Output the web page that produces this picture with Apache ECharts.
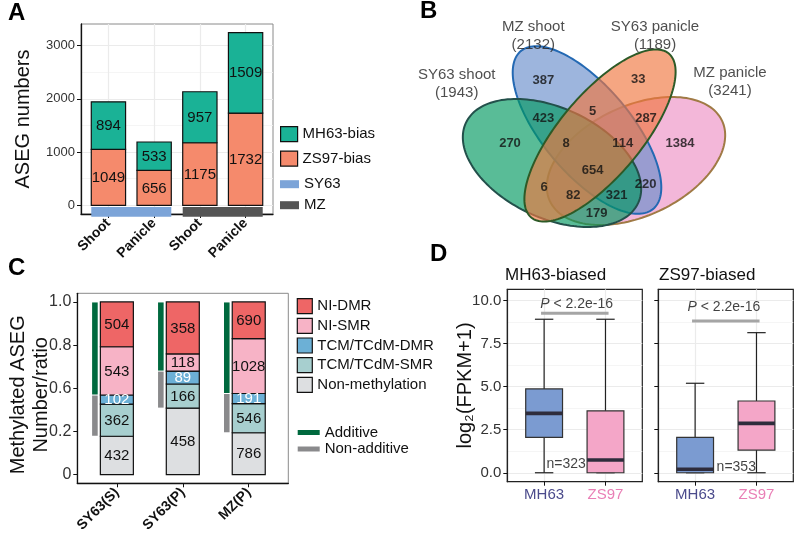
<!DOCTYPE html>
<html>
<head>
<meta charset="utf-8">
<script src="https://cdn.jsdelivr.net/npm/echarts@6/dist/echarts.min.js"></script>
<style>
html,body{margin:0;padding:0;background:#ffffff;}
#chart{width:797px;height:535px;}
</style>
</head>
<body>
<div id="chart"></div>
<script>
// ================= DATA =================
// Panel A
const aCategories = ['Shoot', 'Panicle', 'Shoot', 'Panicle'];
const aZS97Bias = [1049, 656, 1175, 1732];
const aMH63Bias = [894, 533, 957, 1509];
const aHybrids = ['SY63', 'MZ'];
const aHybridSpan = [[1, 2], [3, 4]];
const aYTicks = [0, 1000, 2000, 3000];
const aYMinor = [500, 1500, 2500];

// Panel B (Venn)
const vennSetNames = ['SY63 shoot', 'MZ shoot', 'SY63 panicle', 'MZ panicle'];
const vennSetTotals = [1943, 2132, 1189, 3241];
const vennRegionCounts = [387, 33, 423, 5, 287, 270, 8, 114, 1384, 654, 6, 220, 82, 321, 179];

// Panel C
const cCategories = ['SY63(S)', 'SY63(P)', 'MZ(P)'];
const cNonMethylation = [432, 458, 786];
const cTcmSmr = [362, 166, 546];
const cTcmDmr = [102, 89, 191];
const cNiSmr = [543, 118, 1028];
const cNiDmr = [504, 358, 690];
const cYTickValues = [0, 0.25, 0.5, 0.75, 1];
const cYTickLabels = ['0', '0.2', '0.6', '0.8', '1.0'];

// Panel D  [min, Q1, median, Q3, max]
const dGroups = ['MH63', 'ZS97'];
const dFacets = ['MH63-biased', 'ZS97-biased'];
const dMH63Biased = [[0, 2.06, 3.45, 4.87, 8.92], [0, 0, 0.74, 3.6, 8.92]];
const dZS97Biased = [[0, 0, 0.2, 2.06, 5.2], [0, 1.32, 2.87, 4.17, 8.14]];
const dCounts = ['n=323', 'n=353'];
const dPText = 'P < 2.2e-16';
const dYTicks = [0, 2.5, 5, 7.5, 10];
const dYMinor = [1.25, 3.75, 6.25, 8.75];

// ================= LAYOUT (positions / geometry, not data) =================
// Venn geometry in diagram units (px offsets of panel B): [cx, cy, rx, ry, rotationDeg]
const vennShapes = [
  [152, 163, 95, 55, 25],     // SY63 shoot
  [187, 130, 103, 44, 50],    // MZ shoot
  [200, 135.5, 107, 41, -50], // SY63 panicle
  [236, 161, 95, 55, -25]     // MZ panicle
];
const vennRegionAnchor = [
  [143.3, 80], [238.3, 79], [143.3, 118.3], [192.7, 111.7], [246, 118.3],
  [110, 143.3], [166, 143.3], [222.7, 143.3], [280, 143.3], [192.7, 170],
  [144, 187.7], [245.7, 184.3], [173.3, 195.7], [216.7, 195.7], [196.7, 213.3]
];
const vennSetAnchor = [[56.7, 84], [133.3, 36], [255, 36], [330, 81.5]];
const dPLineY = [9.27, 8.82];
const dPTextPos = [[1.53, 9.78], [1.47, 9.6]];
const dCountPos = [[1.04, 0.5], [1.35, 0.35]];

// ================= STYLE =================
const FONT = '"Liberation Sans", Arial, Helvetica, sans-serif';
const colMH63 = '#1AB296', colZS97 = '#F58A6C';
const hybridColors = ['#7CA4D8', '#555555'];
const cColors = { 'Non-methylation': '#DDDFE1', 'TCM/TCdM-SMR': '#A7CFCF', 'TCM/TCdM-DMR': '#6CB0D6', 'NI-SMR': '#F7B3C6', 'NI-DMR': '#EE6666' };
const vennFill = ['rgba(0,152,96,0.65)', 'rgba(104,141,203,0.65)', 'rgba(240,118,63,0.65)', 'rgba(236,144,197,0.65)'];
const vennStroke = ['#23504B', '#2469B3', '#2D5A27', '#A07A45'];
const vennZ = [2, 1, 3, 0];
const boxColors = ['#7B9BD1', '#F4A6C8'];
const A_BAR_PX = 34.3, C_BAR_PX = 33;

const chart = echarts.init(document.getElementById('chart'), null, { renderer: 'canvas' });

function axisLineStyle(c, w) { return { show: true, onZero: false, lineStyle: { color: c, width: w } }; }

// stacked-bar custom series: data item = [x, bottom, top, labelValue]
function stackedSeries(name, xi, yi, data, color, txtColor, barPx) {
  return {
    type: 'custom', name, xAxisIndex: xi, yAxisIndex: yi, z: 3,
    itemStyle: { color },
    data,
    renderItem: (params, api) => {
      const x = api.value(0);
      const p0 = api.coord([x, api.value(1)]);
      const p1 = api.coord([x, api.value(2)]);
      return { type: 'group', children: [
        { type: 'rect', shape: { x: p0[0] - barPx / 2, y: p1[1], width: barPx, height: p0[1] - p1[1] },
          style: { fill: color, stroke: '#111', lineWidth: 1.2 } },
        { type: 'text', z2: 20, x: p0[0], y: (p0[1] + p1[1]) / 2 + 0.5,
          style: { text: String(api.value(3)), fill: txtColor, fontSize: 15, fontFamily: FONT, align: 'center', verticalAlign: 'middle' } }
      ] };
    }
  };
}

const series = [];

// ---- Panel A stacked bars
const aLayers = [['ZS97-bias', aZS97Bias, colZS97], ['MH63-bias', aMH63Bias, colMH63]];
const aBase = aCategories.map(() => 0);
aLayers.forEach(([name, vals, col]) => {
  const data = vals.map((v, i) => { const d = [i + 1, aBase[i], aBase[i] + v, v]; aBase[i] += v; return d; });
  series.push(stackedSeries(name, 0, 0, data, col, '#111', A_BAR_PX));
});
aHybrids.forEach((name, k) => {
  series.push({
    type: 'custom', name, xAxisIndex: 0, yAxisIndex: 0, z: 4, clip: false,
    itemStyle: { color: hybridColors[k] },
    data: [aHybridSpan[k]],
    renderItem: (params, api) => {
      const p0 = api.coord([api.value(0), 0]);
      const p1 = api.coord([api.value(1), 0]);
      return { type: 'rect', shape: { x: p0[0] - A_BAR_PX / 2, y: p0[1] + 1.6, width: p1[0] - p0[0] + A_BAR_PX, height: 9.7 }, style: { fill: hybridColors[k] } };
    }
  });
});

// ---- Panel C stacked proportions
const cTotals = cCategories.map((_, i) => cNonMethylation[i] + cTcmSmr[i] + cTcmDmr[i] + cNiSmr[i] + cNiDmr[i]);
const cSegments = [
  ['Non-methylation', cNonMethylation, '#111'],
  ['TCM/TCdM-SMR', cTcmSmr, '#111'],
  ['TCM/TCdM-DMR', cTcmDmr, '#ffffff'],
  ['NI-SMR', cNiSmr, '#111'],
  ['NI-DMR', cNiDmr, '#111']
];
const cBase = cCategories.map(() => 0);
cSegments.forEach(([name, vals, txtCol]) => {
  const data = vals.map((v, i) => { const f = v / cTotals[i]; const d = [i + 1, cBase[i], cBase[i] + f, v]; cBase[i] += f; return d; });
  series.push(stackedSeries(name, 1, 2, data, cColors[name], txtCol, C_BAR_PX));
});
const cAddData = cCategories.map((_, i) => [i + 1, (cNonMethylation[i] + cTcmSmr[i] + cTcmDmr[i]) / cTotals[i], 1]);
const cNonAddData = cCategories.map((_, i) => [i + 1, cNonMethylation[i] / cTotals[i], (cNonMethylation[i] + cTcmSmr[i] + cTcmDmr[i]) / cTotals[i]]);
[['Additive', cAddData, '#00693E'], ['Non-additive', cNonAddData, '#8A8A8C']].forEach(([name, data, col]) => {
  series.push({
    type: 'custom', name, xAxisIndex: 1, yAxisIndex: 2, z: 4, clip: false,
    itemStyle: { color: col }, data,
    renderItem: (params, api) => {
      const x = api.coord([api.value(0) - 0.333, 0])[0];
      const yb = api.coord([0, api.value(1)])[1];
      const yt = api.coord([0, api.value(2)])[1];
      return { type: 'rect', shape: { x: x - 2.8, y: yt + 0.5, width: 5.6, height: yb - yt - 1 }, style: { fill: col } };
    }
  });
});

// ---- Panel D
function boxRender(params, api) {
  const x = api.value(0);
  const vmin = api.value(1), q1 = api.value(2), med = api.value(3), q3 = api.value(4), vmax = api.value(5);
  const pMin = api.coord([x, vmin]), pMax = api.coord([x, vmax]);
  const tl = api.coord([x - 0.3, q3]), br = api.coord([x + 0.3, q1]);
  const cl = api.coord([x - 0.15, vmin])[0], cr = api.coord([x + 0.15, vmin])[0];
  const my = api.coord([x, med])[1];
  const ln = { stroke: '#222', lineWidth: 1.2 };
  return { type: 'group', children: [
    { type: 'line', shape: { x1: pMin[0], y1: pMin[1], x2: pMax[0], y2: pMax[1] }, style: ln },
    { type: 'line', shape: { x1: cl, y1: pMax[1], x2: cr, y2: pMax[1] }, style: ln },
    { type: 'line', shape: { x1: cl, y1: pMin[1], x2: cr, y2: pMin[1] }, style: ln },
    { type: 'rect', shape: { x: tl[0], y: tl[1], width: br[0] - tl[0], height: br[1] - tl[1] }, style: { fill: boxColors[params.dataIndex], stroke: '#333', lineWidth: 1.2 } },
    { type: 'line', shape: { x1: tl[0], y1: my, x2: br[0], y2: my }, style: { stroke: '#2E2C3C', lineWidth: 3.6 } }
  ] };
}
[dMH63Biased, dZS97Biased].forEach((boxes, f) => {
  const xi = 2 + f, yi = f === 0 ? 3 : 5;
  series.push({ type: 'custom', name: 'box' + f, xAxisIndex: xi, yAxisIndex: yi, z: 3,
    data: boxes.map((b, i) => [i + 1].concat(b)), renderItem: boxRender });
  series.push({ type: 'custom', name: 'pline' + f, xAxisIndex: xi, yAxisIndex: yi, z: 3,
    data: [[1, 2, dPLineY[f]]],
    renderItem: (params, api) => {
      const a = api.coord([api.value(0) - 0.05, api.value(2)]);
      const b = api.coord([api.value(1) + 0.05, api.value(2)]);
      return { type: 'line', shape: { x1: a[0], y1: a[1], x2: b[0], y2: b[1] }, style: { stroke: '#A5A5A5', lineWidth: 3 } };
    } });
  series.push({ type: 'scatter', name: 'ptext' + f, xAxisIndex: xi, yAxisIndex: yi, symbolSize: 0, z: 5,
    data: [dPTextPos[f]],
    label: { show: true, position: 'inside', formatter: '{i|P}{n| < 2.2e-16}', color: '#111',
      rich: { i: { fontStyle: 'italic', fontSize: 14, fontFamily: FONT, color: '#111' }, n: { fontSize: 14, fontFamily: FONT, color: '#111' } } } });
  series.push({ type: 'scatter', name: 'ntext' + f, xAxisIndex: xi, yAxisIndex: yi, symbolSize: 0, z: 5,
    data: [dCountPos[f]],
    label: { show: true, position: 'inside', align: 'left', formatter: dCounts[f], fontSize: 14, color: '#111', fontFamily: FONT } });
});

// ---- Panel B Venn
series.push({
  type: 'custom', name: 'venn', xAxisIndex: 4, yAxisIndex: 7, z: 2, clip: false,
  data: vennShapes,
  renderItem: (params, api) => {
    const cx = api.value(0), cy = api.value(1), rx = api.value(2), ry = api.value(3), rot = api.value(4) * Math.PI / 180;
    const pts = [];
    for (let k = 0; k < 160; k++) {
      const t = 2 * Math.PI * k / 160;
      const x = cx + rx * Math.cos(t) * Math.cos(rot) - ry * Math.sin(t) * Math.sin(rot);
      const y = cy + rx * Math.cos(t) * Math.sin(rot) + ry * Math.sin(t) * Math.cos(rot);
      pts.push(api.coord([x, y]));
    }
    const i = params.dataIndex;
    return { type: 'polygon', z2: vennZ[i], shape: { points: pts }, style: { fill: vennFill[i], stroke: vennStroke[i], lineWidth: 2 } };
  }
});
series.push({
  type: 'scatter', name: 'vennCounts', xAxisIndex: 4, yAxisIndex: 7, symbolSize: 0, z: 6,
  data: vennRegionAnchor.map((p, i) => ({ value: p, name: String(vennRegionCounts[i]) })),
  label: { show: true, position: 'inside', formatter: '{b}', fontSize: 13, fontWeight: 'bold', color: '#111', fontFamily: FONT }
});
series.push({
  type: 'scatter', name: 'vennSets', xAxisIndex: 4, yAxisIndex: 7, symbolSize: 0, z: 6,
  data: vennSetAnchor.map((p, i) => ({ value: p, name: vennSetNames[i] + '\n(' + vennSetTotals[i] + ')' })),
  label: { show: true, position: 'inside', formatter: '{b}', fontSize: 15, lineHeight: 18, color: '#222', fontFamily: FONT }
});

const tickStyle = { color: '#111', width: 1 };
const legendText = { fontSize: 15, color: '#111', fontFamily: FONT };
const boxed = n => ({ name: n, itemStyle: { borderColor: '#111', borderWidth: 1.2 } });
const option = {
  animation: false,
  backgroundColor: '#ffffff',
  textStyle: { fontFamily: FONT },
  title: [
    { text: 'A', left: 8, top: 1, padding: 0, textStyle: { fontSize: 24, fontWeight: 'bold', color: '#000', fontFamily: FONT } },
    { text: 'B', left: 420, top: -1, padding: 0, textStyle: { fontSize: 24, fontWeight: 'bold', color: '#000', fontFamily: FONT } },
    { text: 'C', left: 8, top: 256, padding: 0, textStyle: { fontSize: 24, fontWeight: 'bold', color: '#000', fontFamily: FONT } },
    { text: 'D', left: 430, top: 242, padding: 0, textStyle: { fontSize: 24, fontWeight: 'bold', color: '#000', fontFamily: FONT } },
    { text: dFacets[0], left: 505, top: 267, padding: 0, textStyle: { fontSize: 17, fontWeight: 'normal', color: '#111', fontFamily: FONT } },
    { text: dFacets[1], left: 659, top: 267, padding: 0, textStyle: { fontSize: 17, fontWeight: 'normal', color: '#111', fontFamily: FONT } }
  ],
  legend: [
    { data: [boxed('MH63-bias'), boxed('ZS97-bias')], left: 280, top: 126, orient: 'vertical', itemWidth: 17, itemHeight: 15, itemGap: 8.3, icon: 'rect', padding: 0, selectedMode: false, textStyle: legendText },
    { data: aHybrids, left: 280, top: 176.7, orient: 'vertical', itemWidth: 19, itemHeight: 8, itemGap: 6, icon: 'rect', padding: 0, selectedMode: false, textStyle: legendText },
    { data: ['NI-DMR', 'NI-SMR', 'TCM/TCdM-DMR', 'TCM/TCdM-SMR', 'Non-methylation'].map(boxed), left: 296.7, top: 298, orient: 'vertical', itemWidth: 15, itemHeight: 15, itemGap: 3.5, icon: 'rect', padding: 0, selectedMode: false, textStyle: legendText },
    { data: ['Additive', 'Non-additive'], left: 297.7, top: 425, orient: 'vertical', itemWidth: 22, itemHeight: 5, itemGap: 1.5, icon: 'rect', padding: 0, selectedMode: false, textStyle: legendText }
  ],
  grid: [
    { left: 81, top: 24, width: 192, height: 190, show: true, borderColor: '#8a8a8a', borderWidth: 1 },
    { left: 77.3, top: 293.3, width: 211, height: 190, show: true, borderColor: '#8a8a8a', borderWidth: 1 },
    { left: 507.3, top: 289.3, width: 135, height: 192.4, show: true, borderColor: '#222', borderWidth: 1.2 },
    { left: 658.3, top: 289.3, width: 135, height: 192.4, show: true, borderColor: '#222', borderWidth: 1.2 },
    { left: 400, top: 0, width: 397, height: 260 }
  ],
  xAxis: [
    { type: 'value', gridIndex: 0, min: 0.4, max: 4.6, axisLine: axisLineStyle('#111', 1.3),
      axisTick: { show: true, customValues: [1, 2, 3, 4], length: 4, lineStyle: tickStyle },
      axisLabel: { customValues: [1, 2, 3, 4], rotate: 45, margin: 7, formatter: v => aCategories[Math.round(v) - 1], fontSize: 14, fontWeight: 'bold', color: '#111', fontFamily: FONT },
      splitLine: { show: true, lineStyle: { color: '#EBEBEB', width: 1.2 } } },
    { type: 'value', gridIndex: 1, min: 0.4, max: 3.6, axisLine: axisLineStyle('#111', 1.3),
      axisTick: { show: true, customValues: [1, 2, 3], length: 4, lineStyle: tickStyle },
      axisLabel: { customValues: [1, 2, 3], rotate: 45, margin: 7, formatter: v => cCategories[Math.round(v) - 1], fontSize: 14, fontWeight: 'bold', color: '#111', fontFamily: FONT },
      splitLine: { show: false } },
    { type: 'value', gridIndex: 2, min: 0.4, max: 2.6, axisLine: axisLineStyle('#222', 1.2),
      axisTick: { show: true, customValues: [1, 2], length: 4, lineStyle: tickStyle },
      axisLabel: { customValues: [1, 2], margin: 6, formatter: v => (Math.round(v) === 1 ? '{m|' : '{z|') + dGroups[Math.round(v) - 1] + '}',
        rich: { m: { color: '#4B4B8C', fontSize: 15, fontFamily: FONT }, z: { color: '#E97FB6', fontSize: 15, fontFamily: FONT } } },
      splitLine: { show: true, lineStyle: { color: '#EBEBEB', width: 1.2 } } },
    { type: 'value', gridIndex: 3, min: 0.4, max: 2.6, axisLine: axisLineStyle('#222', 1.2),
      axisTick: { show: true, customValues: [1, 2], length: 4, lineStyle: tickStyle },
      axisLabel: { customValues: [1, 2], margin: 6, formatter: v => (Math.round(v) === 1 ? '{m|' : '{z|') + dGroups[Math.round(v) - 1] + '}',
        rich: { m: { color: '#4B4B8C', fontSize: 15, fontFamily: FONT }, z: { color: '#E97FB6', fontSize: 15, fontFamily: FONT } } },
      splitLine: { show: true, lineStyle: { color: '#EBEBEB', width: 1.2 } } },
    { type: 'value', gridIndex: 4, min: 0, max: 397, show: false }
  ],
  yAxis: [
    { type: 'value', gridIndex: 0, min: -162, max: 3403, axisLine: axisLineStyle('#111', 1.3),
      axisTick: { show: true, customValues: aYTicks, length: 4, lineStyle: tickStyle },
      axisLabel: { customValues: aYTicks, margin: 6, fontSize: 13, color: '#333', fontFamily: FONT, formatter: v => String(v) },
      splitLine: { show: true, lineStyle: { color: '#EBEBEB', width: 1.2 } },
      name: 'ASEG numbers', nameLocation: 'middle', nameGap: 48, nameRotate: 90, nameTextStyle: { fontSize: 20, color: '#111', fontFamily: FONT } },
    { type: 'value', gridIndex: 0, min: -162, max: 3403, axisLine: { show: false },
      axisTick: { show: false, customValues: aYMinor }, axisLabel: { show: false, customValues: aYMinor },
      splitLine: { show: true, lineStyle: { color: '#F2F2F2', width: 0.8 } } },
    { type: 'value', gridIndex: 1, min: -0.05, max: 1.05, axisLine: axisLineStyle('#111', 1.3),
      axisTick: { show: true, customValues: cYTickValues, length: 4, lineStyle: tickStyle },
      axisLabel: { customValues: cYTickValues, margin: 6, fontSize: 16, color: '#333', fontFamily: FONT,
        formatter: v => cYTickLabels[cYTickValues.findIndex(t => Math.abs(t - v) < 1e-6)] },
      splitLine: { show: false },
      name: 'Methylated ASEG\nNumber/ratio', nameLocation: 'middle', nameGap: 24, nameRotate: 90, nameMoveOverlap: false,
      nameTextStyle: { fontSize: 20, lineHeight: 23, color: '#111', fontFamily: FONT, padding: [0, 13, 0, 0] } },
    { type: 'value', gridIndex: 2, min: -0.52, max: 10.66, axisLine: axisLineStyle('#222', 1.2),
      axisTick: { show: true, customValues: dYTicks, length: 4, lineStyle: tickStyle },
      axisLabel: { customValues: dYTicks, margin: 6, fontSize: 15, color: '#333', fontFamily: FONT, formatter: v => v.toFixed(1) },
      splitLine: { show: true, lineStyle: { color: '#EBEBEB', width: 1.2 } },
      name: 'log\u2082(FPKM+1)', nameLocation: 'middle', nameGap: 32, nameRotate: 90, nameMoveOverlap: false, nameTextStyle: { fontSize: 20, color: '#111', fontFamily: FONT } },
    { type: 'value', gridIndex: 2, min: -0.52, max: 10.66, axisLine: { show: false },
      axisTick: { show: false, customValues: dYMinor }, axisLabel: { show: false, customValues: dYMinor },
      splitLine: { show: true, lineStyle: { color: '#F2F2F2', width: 0.8 } } },
    { type: 'value', gridIndex: 3, min: -0.52, max: 10.66, axisLine: axisLineStyle('#222', 1.2),
      axisTick: { show: true, customValues: dYTicks, length: 4, lineStyle: tickStyle },
      axisLabel: { show: false, customValues: dYTicks },
      splitLine: { show: true, lineStyle: { color: '#EBEBEB', width: 1.2 } } },
    { type: 'value', gridIndex: 3, min: -0.52, max: 10.66, axisLine: { show: false },
      axisTick: { show: false, customValues: dYMinor }, axisLabel: { show: false, customValues: dYMinor },
      splitLine: { show: true, lineStyle: { color: '#F2F2F2', width: 0.8 } } },
    { type: 'value', gridIndex: 4, min: 0, max: 260, inverse: true, show: false }
  ],
  series
};
chart.setOption(option);
</script>
</body>
</html>
